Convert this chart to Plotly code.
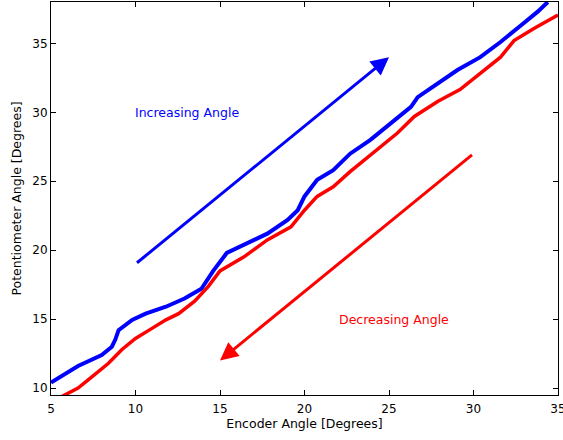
import plotly.graph_objects as go

# Increasing-angle sweep (blue)
inc_x = [5.0, 6.6, 8.0, 8.6, 8.8, 9.0, 9.8, 10.6, 11.8, 12.9, 13.9, 14.6, 15.4, 16.4,
         17.8, 19.0, 19.6, 20.0, 20.75, 21.7, 22.7, 23.9, 25.3, 26.3, 26.7, 27.9,
         29.05, 30.4, 31.6, 32.8, 33.8, 34.4]
inc_y = [10.4, 11.6, 12.4, 13.0, 13.5, 14.2, 14.95, 15.4, 15.9, 16.5, 17.2, 18.5, 19.8, 20.4,
         21.2, 22.2, 22.9, 23.9, 25.1, 25.8, 27.0, 28.0, 29.4, 30.4, 31.1, 32.1,
         33.07, 34.0, 35.1, 36.3, 37.3, 38.0]

# Decreasing-angle sweep (red)
dec_x = [5.5, 6.6, 7.4, 8.4, 9.2, 10.0, 11.0, 11.8, 12.55, 13.5, 14.3, 15.0, 16.4, 17.8,
         19.2, 20.0, 20.75, 21.7, 22.7, 23.9, 25.5, 26.5, 27.9, 29.2, 30.4, 31.6, 32.4,
         33.6, 35.0]
dec_y = [9.3, 10.0, 10.8, 11.8, 12.8, 13.6, 14.35, 14.95, 15.4, 16.3, 17.36, 18.5, 19.5, 20.75,
         21.7, 22.9, 23.9, 24.6, 25.7, 26.9, 28.5, 29.7, 30.8, 31.65, 32.8, 34.0, 35.2,
         36.1, 37.05]

x_ticks = [5, 10, 15, 20, 25, 30, 35]
y_ticks = [10, 15, 20, 25, 30, 35]

inc_arrow = [10, 19, 25, 34]   # tail x, tail y, head x, head y
dec_arrow = [30, 27, 15, 12]
inc_label = ["Increasing Angle", 9.85, 30]
dec_label = ["Decreasing Angle", 25.27, 15]

BLUE = "#0000ff"
RED = "#ff0000"
FONT = "DejaVu Sans, sans-serif"

fig = go.Figure()
fig.add_trace(go.Scatter(x=inc_x, y=inc_y, mode="lines",
                         line=dict(color=BLUE, width=4), showlegend=False))
fig.add_trace(go.Scatter(x=dec_x, y=dec_y, mode="lines",
                         line=dict(color=RED, width=3.5), showlegend=False))

for arr, col in [(inc_arrow, BLUE), (dec_arrow, RED)]:
    fig.add_annotation(x=arr[2], y=arr[3], ax=arr[0], ay=arr[1],
                       xref="x", yref="y", axref="x", ayref="y",
                       showarrow=True, arrowhead=2, arrowsize=1.2,
                       arrowwidth=3, arrowcolor=col, text="")

for lab, col in [(inc_label, BLUE), (dec_label, RED)]:
    fig.add_annotation(x=lab[1], y=lab[2], xref="x", yref="y", text=lab[0],
                       showarrow=False, xanchor="left" if lab is inc_label else "center",
                       font=dict(family=FONT, size=12.5, color=col))

axis_common = dict(showline=True, linecolor="black", linewidth=1, mirror="ticks",
                   ticks="inside", ticklen=5, tickcolor="black", showgrid=False,
                   zeroline=False, automargin=False, ticklabeloverflow="allow",
                   tickfont=dict(family=FONT, size=12, color="black"))

fig.update_xaxes(range=[5, 35], tickvals=x_ticks, ticktext=[str(v) for v in x_ticks],
                 ticklabelstandoff=3,
                 title=dict(text="Encoder Angle [Degrees]", standoff=3,
                            font=dict(family=FONT, size=12.5, color="black")),
                 **axis_common)
fig.update_yaxes(range=[9.5, 38], tickvals=y_ticks, ticktext=[str(v) for v in y_ticks],
                 title=dict(text="Potentiometer Angle [Degrees]", standoff=7,
                            font=dict(family=FONT, size=12.5, color="black")),
                 **axis_common)

fig.update_layout(width=563, height=440, margin=dict(l=51, r=5, t=2, b=45),
                  plot_bgcolor="white", paper_bgcolor="white")

fig.write_html("out.html", config={"displayModeBar": False},
               post_script="document.body.style.margin='0';document.body.style.overflow='hidden';")
